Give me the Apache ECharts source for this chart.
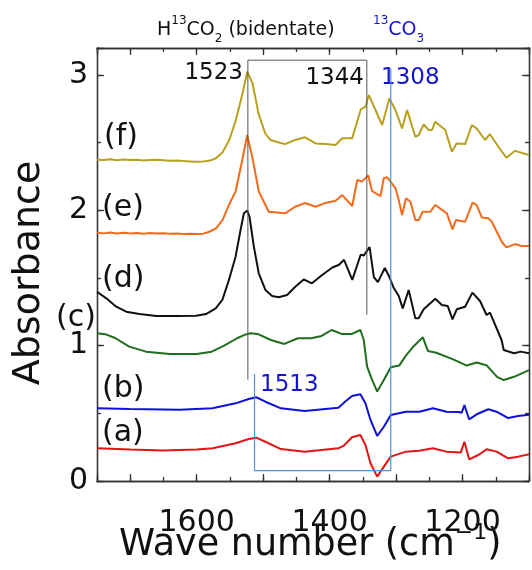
<!DOCTYPE html>
<html><head><meta charset="utf-8">
<script src="https://cdn.jsdelivr.net/npm/echarts@6/dist/echarts.min.js"></script>
<style>html,body{margin:0;padding:0;background:#fff}#c{width:532px;height:570px}</style>
</head><body><div id="c"></div>
<script>
// ---- data: [wavenumber (cm-1), absorbance] ----
const curveA = [[1750,0.242],[1700,0.232],[1651,0.226],[1600,0.232],[1576,0.242],[1541.5,0.279],[1521.6,0.31],[1510.5,0.32],[1496.6,0.29],[1473.2,0.236],[1437.6,0.217],[1386.8,0.242],[1379.2,0.259],[1366.3,0.323],[1353.7,0.34],[1346.1,0.266],[1338.5,0.131],[1328.4,0.032],[1318.4,0.106],[1308,0.18],[1285.2,0.217],[1264.8,0.224],[1244.6,0.242],[1224.1,0.217],[1202.8,0.21],[1197.2,0.29],[1190.1,0.16],[1176.2,0.192],[1163.8,0.234],[1148.8,0.217],[1131.3,0.168],[1116.3,0.18],[1100,0.197]];
const curveB = [[1750,0.537],[1701,0.532],[1626,0.527],[1576.4,0.537],[1541.5,0.574],[1521.6,0.606],[1510.5,0.619],[1496.6,0.586],[1473.2,0.537],[1437.6,0.517],[1386.8,0.542],[1376.8,0.586],[1366.3,0.628],[1353.7,0.641],[1346.1,0.574],[1338.5,0.451],[1328.4,0.333],[1318.4,0.401],[1308,0.488],[1285.2,0.512],[1264.8,0.512],[1244.6,0.537],[1224.1,0.512],[1206.1,0.51],[1201.2,0.505],[1197.2,0.562],[1190.1,0.456],[1178.7,0.493],[1161.2,0.53],[1148.8,0.512],[1131.3,0.465],[1116.3,0.48],[1100,0.49]];
const curveC = [[1750,1.092],[1737.6,1.085],[1722,1.055],[1701.6,0.993],[1676.2,0.956],[1640.3,0.939],[1600,0.939],[1577.4,0.956],[1559.4,0.998],[1539.2,1.055],[1528,1.08],[1519,1.092],[1508.5,1.087],[1488.3,1.042],[1468.2,1.013],[1447.8,1.055],[1427.7,1.055],[1412.1,1.072],[1397,1.116],[1381.8,1.087],[1366.3,1.087],[1353.6,1.116],[1348.6,1.042],[1343.6,0.845],[1335.9,0.746],[1328.4,0.661],[1318.4,0.746],[1308,0.84],[1295.4,0.853],[1285.2,0.927],[1275,0.988],[1259.7,1.062],[1252.2,0.961],[1239.5,0.948],[1214,0.899],[1193.7,0.853],[1178.6,0.876],[1163.3,0.853],[1148.1,0.77],[1137.9,0.746],[1122.6,0.77],[1100,0.82]];
const curveD = [[1750,1.399],[1736,1.35],[1721,1.288],[1706,1.251],[1686,1.234],[1661,1.219],[1631,1.219],[1601,1.222],[1586,1.234],[1571.4,1.276],[1561.4,1.338],[1551.5,1.486],[1541.5,1.658],[1534,1.855],[1529,1.979],[1524,1.998],[1520.5,1.953],[1514,1.732],[1506.6,1.535],[1496.6,1.412],[1486.5,1.367],[1476.6,1.358],[1464,1.375],[1451.6,1.436],[1439,1.49],[1426.6,1.461],[1410.8,1.524],[1395.8,1.578],[1385.8,1.598],[1378.3,1.635],[1365.9,1.486],[1353.3,1.672],[1348.4,1.667],[1339.8,1.729],[1333.4,1.507],[1327.4,1.47],[1316.9,1.574],[1311,1.517],[1303.4,1.426],[1296,1.367],[1290,1.276],[1281,1.412],[1271,1.202],[1266,1.202],[1258.5,1.269],[1241,1.347],[1231.1,1.301],[1222.2,1.293],[1215.1,1.195],[1208.7,1.269],[1196.1,1.288],[1185.2,1.392],[1173.7,1.33],[1163.8,1.227],[1158.7,1.244],[1141.3,1.042],[1138,0.968],[1122.6,0.944],[1112.5,0.956],[1100,0.944]];
const curveE = [[1750,1.835],[1740,1.83],[1730,1.836],[1720,1.829],[1710,1.834],[1700,1.83],[1690,1.833],[1680,1.828],[1670,1.832],[1660,1.829],[1650,1.831],[1640,1.827],[1630,1.829],[1620,1.826],[1610,1.827],[1600,1.825],[1590,1.828],[1581,1.842],[1571,1.867],[1561,1.929],[1551.5,2.04],[1541.5,2.14],[1531.4,2.372],[1524,2.557],[1516.5,2.397],[1506.6,2.14],[1496.6,2.04],[1491.6,1.99],[1467,1.978],[1452,2.027],[1437,2.054],[1421,2.027],[1408,2.052],[1391,2.071],[1381,2.113],[1366,2.032],[1358.4,2.224],[1351,2.214],[1342,2.259],[1336,2.142],[1323.4,2.106],[1318.7,2.237],[1313.6,2.245],[1301,2.165],[1296,2.076],[1291,1.966],[1285,2.089],[1278.4,2.064],[1271,1.929],[1266,1.929],[1260,1.99],[1248.5,1.99],[1241,2.04],[1223.6,1.978],[1215,1.86],[1210,1.929],[1196,1.916],[1185,2.057],[1179,2.04],[1171,1.948],[1161,1.941],[1156,1.916],[1141,1.768],[1134,1.727],[1121,1.751],[1111,1.737],[1100,1.737]];
const curveF = [[1750,2.375],[1740,2.372],[1730,2.378],[1720,2.37],[1710,2.376],[1700,2.372],[1690,2.374],[1680,2.368],[1670,2.372],[1660,2.375],[1650,2.37],[1640,2.366],[1630,2.368],[1620,2.364],[1610,2.362],[1600,2.36],[1590,2.362],[1580,2.368],[1571,2.385],[1561,2.43],[1551,2.52],[1541,2.668],[1531,2.865],[1524,3.025],[1516,2.94],[1507,2.717],[1497,2.57],[1489,2.52],[1475,2.5],[1467,2.49],[1452,2.52],[1437,2.54],[1421,2.495],[1406,2.49],[1391,2.483],[1381,2.533],[1366,2.533],[1353,2.747],[1346,2.766],[1341,2.853],[1321,2.631],[1310,2.828],[1301,2.742],[1291,2.606],[1283.5,2.742],[1271,2.544],[1266,2.557],[1258.5,2.636],[1251,2.594],[1246,2.594],[1241,2.655],[1226,2.594],[1216,2.434],[1209,2.495],[1196,2.49],[1186,2.631],[1179,2.606],[1166,2.52],[1159,2.564],[1146,2.47],[1134,2.389],[1121,2.44],[1100,2.409]];
// annotation guide lines (data coords)
const boxGray = [[1523,0.75],[1523,3.11],[1344,3.11],[1344,1.23]];
const boxBlue = [[1513,0.79],[1513,0.076],[1308,0.076],[1308,3.05]];
// tick labels
const xTickLabels = [1200,1400,1600];
const yTickLabels = [0,1,2,3];
const curveNames = ['(a)','(b)','(c)','(d)','(e)','(f)'];
const peakLabels = ['1523','1344','1308','1513'];

const FONT = 'DejaVu Sans';
const AX = '#333';
const chart = echarts.init(document.getElementById('c'), null, {renderer:'canvas'});

function xAx(pos, interval, len, labels){
  return {type:'value', position:pos, inverse:true, min:1100, max:1750, interval:interval,
    axisLine:{show:true, onZero:false, lineStyle:{color:AX, width:1.3}},
    axisTick:{show:true, inside:true, length:len, lineStyle:{color:AX, width:1.3}},
    axisLabel:{show:labels, fontFamily:FONT, fontSize:30, color:'#111', margin:27,
      formatter:v => xTickLabels.includes(v) ? String(v) : ''},
    splitLine:{show:false}};
}
function yAx(pos, interval, len, labels){
  return {type:'value', position:pos, min:0, max:3.2, interval:interval,
    axisLine:{show:true, onZero:false, lineStyle:{color:AX, width:1.3}},
    axisTick:{show:true, inside:true, length:len, lineStyle:{color:AX, width:1.3}},
    axisLabel:{show:labels, fontFamily:FONT, fontSize:30, color:'#111', margin:9,
      formatter:v => yTickLabels.includes(v) ? String(v) : ''},
    splitLine:{show:false}};
}
function ls(data, color, width){
  return {type:'line', data:data, symbol:'none', xAxisIndex:0, yAxisIndex:0,
    lineStyle:{color:color, width:width}, silent:true, z:2};
}
function txt(t, x, y, size, color, align){
  return {type:'text', x:x, y:y, silent:true,
    style:{text:t, fontFamily:FONT, fontSize:size, fill:color,
      textAlign:align, align:align, textVerticalAlign:'middle', verticalAlign:'middle'}};
}
const BLUE = '#1414d0';
function rich(color, size, sub){
  return {
    m:{fontFamily:FONT, fontSize:size, lineHeight:30, verticalAlign:'middle', fill:color},
    s:{fontFamily:FONT, fontSize:sub, lineHeight:sub, verticalAlign:'top', fill:color},
    b:{fontFamily:FONT, fontSize:sub, lineHeight:sub, verticalAlign:'bottom', fill:color}};
}
chart.setOption({
  animation:false,
  grid:{left:97, right:1, top:48, bottom:89, containLabel:false},
  xAxis:[xAx('bottom',100,7,true), xAx('bottom',50,4,false), xAx('top',100,7,false), xAx('top',50,4,false)],
  yAxis:[yAx('left',1,7,true), yAx('left',0.5,4,false), yAx('right',1,7,false), yAx('right',0.5,4,false)],
  series:[
    ls(curveA,'#e01515',2), ls(curveB,'#1010d8',2), ls(curveC,'#1f6e1f',2),
    ls(curveD,'#111111',2), ls(curveE,'#f26b1d',2), ls(curveF,'#b9a01e',2),
    Object.assign(ls(boxGray,'#555',1),{z:3}), Object.assign(ls(boxBlue,'#4f95d6',1.2),{z:3})
  ],
  graphic:{elements:[
    txt(peakLabels[0], 243, 73, 23, '#111', 'right'),
    txt(peakLabels[1], 364, 78, 23, '#111', 'right'),
    txt(peakLabels[2], 381, 78, 23, BLUE, 'left'),
    txt(peakLabels[3], 260, 385, 23, BLUE, 'left'),
    txt(curveNames[5], 104, 137, 30, '#111', 'left'),
    txt(curveNames[4], 102, 208, 30, '#111', 'left'),
    txt(curveNames[3], 102, 279, 30, '#111', 'left'),
    txt(curveNames[2], 56, 318, 30, '#111', 'left'),
    txt(curveNames[1], 102, 389, 30, '#111', 'left'),
    txt(curveNames[0], 102, 433, 30, '#111', 'left'),
    {type:'text', x:157, y:15, silent:true, style:{text:'{m|H}{s|13}{m|CO}{b|2}{m| (bidentate)}', fill:'#111', fontFamily:FONT,
      textVerticalAlign:'top', verticalAlign:'top', rich:rich('#111',19,12)}},
    {type:'text', x:373, y:15, silent:true, style:{text:'{s|13}{m|CO}{b|3}', fill:BLUE, fontFamily:FONT,
      textVerticalAlign:'top', verticalAlign:'top', rich:rich(BLUE,19,12)}},
    {type:'text', x:119, y:522, silent:true, style:{text:'{m|Wave number (cm}{s|\u22121}{m|)}', fill:'#111', fontFamily:FONT,
      textVerticalAlign:'top', verticalAlign:'top', rich:{
        m:{fontFamily:FONT, fontSize:36.5, lineHeight:48, verticalAlign:'middle', fill:'#111'},
        s:{fontFamily:FONT, fontSize:22, lineHeight:28, verticalAlign:'top', fill:'#111'}}}},
    {type:'text', x:29, y:273, rotation:Math.PI/2, silent:true, style:{text:'Absorbance', fontFamily:FONT, fontSize:38, fill:'#111',
      textAlign:'center', align:'center', textVerticalAlign:'middle', verticalAlign:'middle'}}
  ]}
});
</script></body></html>
